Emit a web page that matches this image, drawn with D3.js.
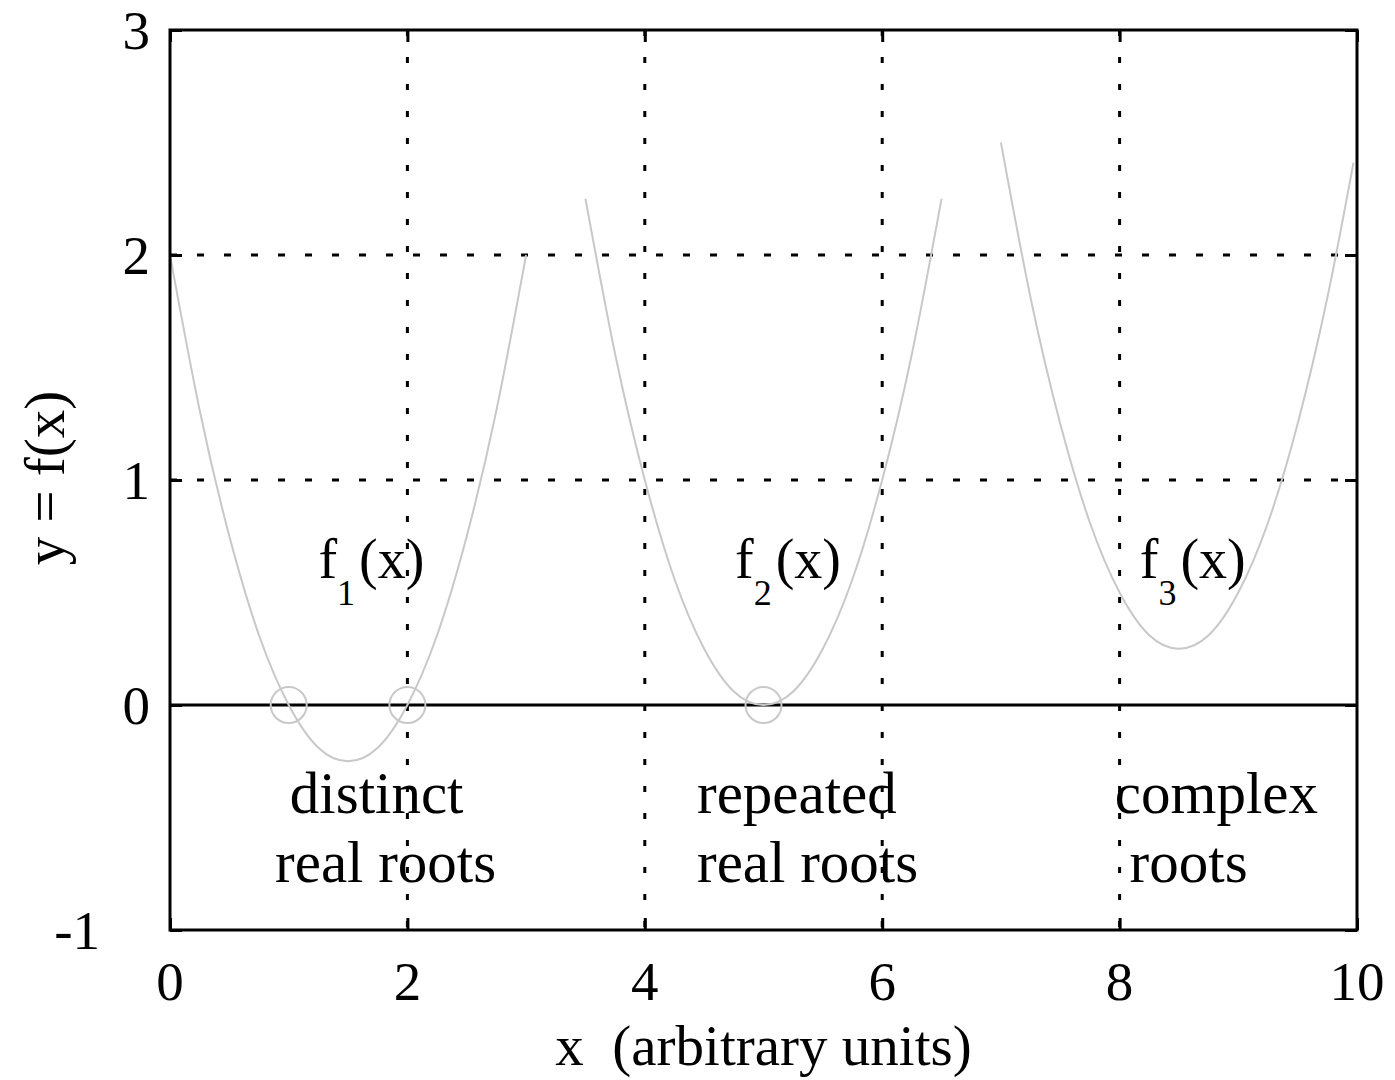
<!DOCTYPE html>
<html>
<head>
<meta charset="utf-8">
<script src="https://cdn.jsdelivr.net/npm/d3@7"></script>
<style>
  body { margin: 0; background: #fff; }
  text { font-family: "Liberation Serif", "Times New Roman", serif; fill: #000; }
</style>
</head>
<body>
<div id="chart"></div>
<script>
// tick values
var xTicks = [0, 2, 4, 6, 8, 10];
var yTicks = [-1, 0, 1, 2, 3];
var xGrid = [2, 4, 6, 8];
var yGrid = [1, 2];

// curve points
var f1x = [0, 0.25, 0.5, 0.75, 1, 1.25, 1.5, 1.75, 2, 2.25, 2.5, 2.75, 3];
var f1y = [2, 1.31, 0.75, 0.31, 0, -0.19, -0.25, -0.19, 0, 0.31, 0.75, 1.31, 2];
var f2x = [3.5, 3.75, 4, 4.25, 4.5, 4.75, 5, 5.25, 5.5, 5.75, 6, 6.25, 6.5];
var f2y = [2.25, 1.56, 1, 0.56, 0.25, 0.06, 0, 0.06, 0.25, 0.56, 1, 1.56, 2.25];
var f3x = [7, 7.25, 7.5, 7.75, 8, 8.25, 8.5, 8.75, 9, 9.25, 9.5, 9.75, 9.97];
var f3y = [2.5, 1.81, 1.25, 0.81, 0.5, 0.31, 0.25, 0.31, 0.5, 0.81, 1.25, 1.81, 2.41];

// roots marked with circles
var rootX = [1, 2, 5];

var width = 1395, height = 1080;
var svg = d3.select("#chart").append("svg")
	.attr("width", width)
	.attr("height", height);

var x = d3.scaleLinear().domain([0, 10]).range([170, 1357]);
var y = d3.scaleLinear().domain([-1, 3]).range([930, 30]);

// grid
svg.selectAll(".vgrid").data(xGrid).enter()
	.append("line")
	.attr("x1", d => x(d)).attr("x2", d => x(d))
	.attr("y1", y(3)).attr("y2", y(-1))
	.attr("stroke", "#000")
	.attr("stroke-width", 3)
	.attr("stroke-dasharray", "6,21");

svg.selectAll(".hgrid").data(yGrid).enter()
	.append("line")
	.attr("x1", x(0)).attr("x2", x(10))
	.attr("y1", d => y(d)).attr("y2", d => y(d))
	.attr("stroke", "#000")
	.attr("stroke-width", 3)
	.attr("stroke-dasharray", "7,20");

// zero line
svg.append("line")
	.attr("x1", x(0)).attr("x2", x(10))
	.attr("y1", y(0)).attr("y2", y(0))
	.attr("stroke", "#000")
	.attr("stroke-width", 3);

// inward ticks on all sides
function styleAxis(g) {
	g.select(".domain").remove();
	g.selectAll("line").attr("stroke", "#000").attr("stroke-width", 3);
	g.selectAll("text").remove();
}
svg.append("g").attr("transform", "translate(0," + y(-1) + ")")
	.call(d3.axisBottom(x).tickValues(xTicks).tickSize(-12)).call(styleAxis);
svg.append("g").attr("transform", "translate(0," + y(3) + ")")
	.call(d3.axisTop(x).tickValues(xTicks).tickSize(-12)).call(styleAxis);
svg.append("g").attr("transform", "translate(" + x(0) + ",0)")
	.call(d3.axisLeft(y).tickValues(yTicks).tickSize(-12)).call(styleAxis);
svg.append("g").attr("transform", "translate(" + x(10) + ",0)")
	.call(d3.axisRight(y).tickValues(yTicks).tickSize(-12)).call(styleAxis);

// curves
var line = d3.line()
	.x(d => x(d[0]))
	.y(d => y(d[1]))
	.curve(d3.curveNatural);

[[f1x, f1y], [f2x, f2y], [f3x, f3y]].forEach(function(s) {
	svg.append("path")
		.datum(d3.zip(s[0], s[1]))
		.attr("d", line)
		.attr("fill", "none")
		.attr("stroke", "#c8c8c8")
		.attr("stroke-width", 2);
});

svg.selectAll(".root").data(rootX).enter()
	.append("circle")
	.attr("cx", d => x(d))
	.attr("cy", y(0))
	.attr("r", 18)
	.attr("fill", "none")
	.attr("stroke", "#c8c8c8")
	.attr("stroke-width", 2);

// frame
svg.append("rect")
	.attr("x", x(0)).attr("y", y(3))
	.attr("width", x(10) - x(0))
	.attr("height", y(-1) - y(3))
	.attr("fill", "none")
	.attr("stroke", "#000")
	.attr("stroke-width", 3);

// tick labels
svg.selectAll(".xlab").data(xTicks).enter()
	.append("text")
	.attr("x", d => x(d))
	.attr("y", 1000)
	.attr("text-anchor", "middle")
	.attr("font-size", 55)
	.text(d => d);

svg.selectAll(".ylab").data(yTicks).enter()
	.append("text")
	.attr("x", d => d < 0 ? 100 : 150)
	.attr("y", d => y(d) + 19)
	.attr("text-anchor", "end")
	.attr("font-size", 55)
	.text(d => d);

// axis titles
svg.append("text")
	.attr("x", (x(0) + x(10)) / 2)
	.attr("y", 1065)
	.attr("text-anchor", "middle")
	.attr("font-size", 57)
	.style("white-space", "pre")
	.text("x  (arbitrary units)");

svg.append("text")
	.attr("transform", "translate(64," + 478 + ") rotate(-90)")
	.attr("text-anchor", "middle")
	.attr("font-size", 57)
	.text("y = f(x)");

// function labels
var fLabels = [
	{ n: "1", x: 1.25 },
	{ n: "2", x: 4.76 },
	{ n: "3", x: 8.17 }
];
fLabels.forEach(function(l) {
	var t = svg.append("text")
		.attr("x", x(l.x))
		.attr("y", 578)
		.attr("font-size", 56);
	t.append("tspan").text("f");
	t.append("tspan").attr("dy", 27).attr("font-size", 36).text(l.n);
	t.append("tspan").attr("dy", -27).attr("dx", 4).text("(x)");
});

// root type notes
var notes = [
	{ x: 0.885, lines: [" distinct", "real roots"] },
	{ x: 4.44, lines: ["repeated", "real roots"] },
	{ x: 7.96, lines: ["complex", " roots"] }
];
notes.forEach(function(n) {
	n.lines.forEach(function(s, i) {
		svg.append("text")
			.attr("x", x(n.x))
			.attr("y", 813 + i * 69)
			.attr("font-size", 59)
			.style("white-space", "pre")
			.text(s);
	});
});
</script>
</body>
</html>
